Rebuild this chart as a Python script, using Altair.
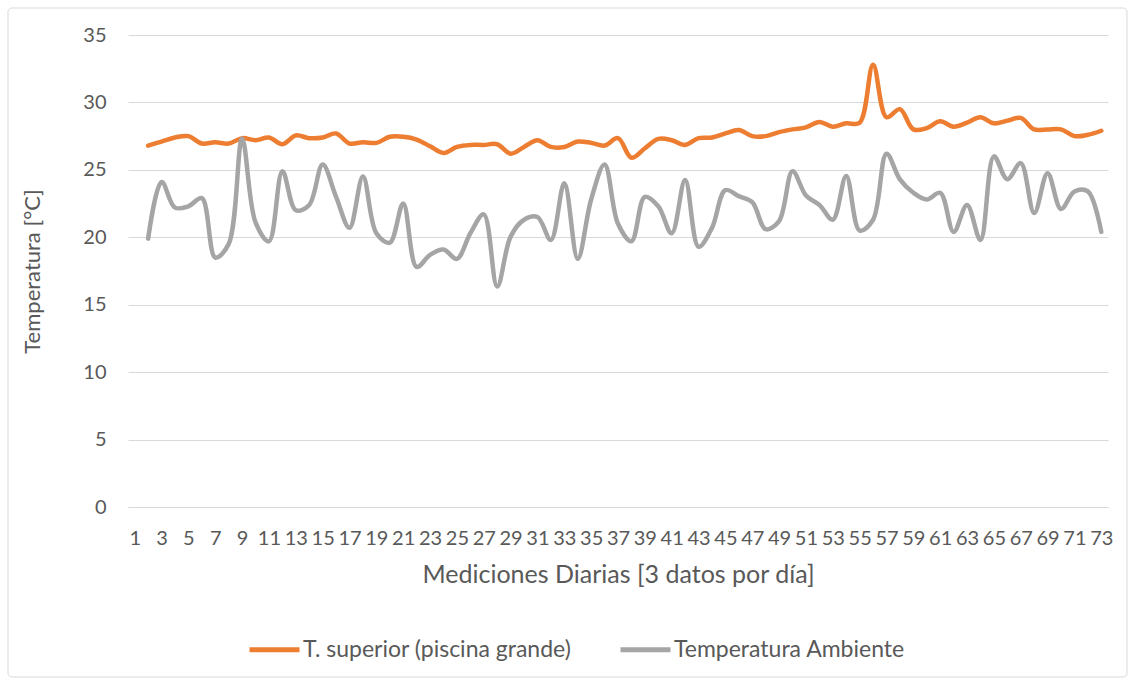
import altair as alt
import pandas as pd

# Measurement index (category 1 has no data; series start at 2)
indices = list(range(2, 74))

t_superior = [
    26.8, 27.1, 27.4, 27.5, 26.95, 27.05, 26.95, 27.35, 27.2, 27.4,
    26.9, 27.55, 27.35, 27.4, 27.7, 26.95, 27.05, 27.0, 27.45, 27.45,
    27.25, 26.75, 26.25, 26.7, 26.85, 26.85, 26.9, 26.2, 26.7, 27.2,
    26.7, 26.7, 27.1, 27.0, 26.8, 27.35, 25.9, 26.6, 27.3, 27.2,
    26.85, 27.35, 27.4, 27.7, 27.95, 27.5, 27.5, 27.8, 28.0, 28.15,
    28.55, 28.2, 28.45, 28.5, 32.8, 28.9, 29.5, 28.0, 28.1, 28.6,
    28.2, 28.5, 28.9, 28.45, 28.65, 28.85, 28.0, 28.0, 28.0, 27.5,
    27.6, 27.9,
]

t_ambiente = [
    19.9, 24.1, 22.2, 22.3, 22.9, 18.5, 19.5, 27.3, 21.1, 19.7,
    24.9, 22.0, 22.4, 25.4, 23.0, 20.7, 24.5, 20.3, 19.6, 22.5,
    17.8, 18.7, 19.1, 18.4, 20.3, 21.7, 16.35, 20.05, 21.3, 21.5,
    19.8, 24.0, 18.4, 22.8, 25.4, 21.0, 19.7, 23.0, 22.3, 20.3,
    24.25, 19.3, 20.7, 23.5, 23.05, 22.6, 20.6, 21.2, 24.9, 23.1,
    22.4, 21.3, 24.55, 20.5, 21.3, 26.2, 24.3, 23.3, 22.8, 23.3,
    20.4, 22.4, 19.8, 26.0, 24.3, 25.5, 21.8, 24.75, 22.1, 23.4,
    23.4, 20.4,
]

series_names = ["T. superior (piscina grande)", "Temperatura Ambiente"]
series_colors = ["#ED7D31", "#A5A5A5"]
x_tick_values = list(range(1, 74, 2))
y_tick_values = [0, 5, 10, 15, 20, 25, 30, 35]

rows = []
for i, v in zip(indices, t_superior):
    rows.append({"idx": i, "valor": v, "serie": series_names[0], "orden": 0})
for i, v in zip(indices, t_ambiente):
    rows.append({"idx": i, "valor": v, "serie": series_names[1], "orden": 1})
df = pd.DataFrame(rows)

FONT = "Lato"
TXT = "#595959"
GRID = "#D9D9D9"

lines = (
    alt.Chart(df)
    .mark_line(interpolate="catmull-rom", strokeWidth=4.5, strokeCap="round", strokeJoin="round")
    .encode(
        x=alt.X(
            "idx:Q",
            scale=alt.Scale(domain=[0.5, 73.5], nice=False, zero=False),
            axis=alt.Axis(
                values=x_tick_values,
                title="Mediciones Diarias [3 datos por día]",
                grid=False,
                ticks=False,
                domain=True,
                domainColor=GRID,
                domainWidth=1,
                labelFlush=False,
                labelOverlap=False,
                labelPadding=21,
                labelFontSize=20,
                labelColor=TXT,
                labelFont=FONT,
                titleFont=FONT,
                titleFontSize=25,
                titleFontWeight="normal",
                titleColor=TXT,
                titlePadding=14,
            ),
        ),
        y=alt.Y(
            "valor:Q",
            scale=alt.Scale(domain=[0, 35], nice=False),
            axis=alt.Axis(
                values=y_tick_values,
                title="Temperatura [°C]",
                grid=True,
                gridColor=GRID,
                gridWidth=1,
                ticks=False,
                domain=False,
                labelPadding=22,
                labelFontSize=20,
                labelColor=TXT,
                labelFont=FONT,
                titleFont=FONT,
                titleFontSize=22,
                titleFontWeight="normal",
                titleColor=TXT,
                titlePadding=38,
            ),
        ),
        color=alt.Color(
            "serie:N",
            scale=alt.Scale(domain=series_names, range=series_colors),
            legend=alt.Legend(
                title=None,
                orient="none",
                legendX=119,
                legendY=587,
                direction="horizontal",
                symbolType="stroke",
                symbolSize=2500,
                symbolStrokeWidth=5,
                labelFont=FONT,
                labelFontSize=23,
                labelColor=TXT,
                labelLimit=0,
                labelOffset=1,
                columnPadding=38,
            ),
        ),
        order=alt.Order("orden:Q"),
        detail="serie:N",
    )
)

border = (
    alt.Chart(pd.DataFrame({"b": [0]}))
    .mark_rect(fillOpacity=0, stroke=GRID, strokeWidth=1, cornerRadius=4)
    .encode(
        x=alt.value(-120),
        x2=alt.value(999),
        y=alt.value(-27),
        y2=alt.value(642),
    )
)

chart = (
    alt.layer(border, lines)
    .properties(
        width=980,
        height=472,
        autosize=alt.AutoSizeParams(type="none"),
        padding={"left": 128, "top": 35, "right": 26, "bottom": 176},
        background="white",
    )
    .configure_view(stroke=None)
)

chart.save("out.html", embed_options={"renderer": "svg", "actions": False})
